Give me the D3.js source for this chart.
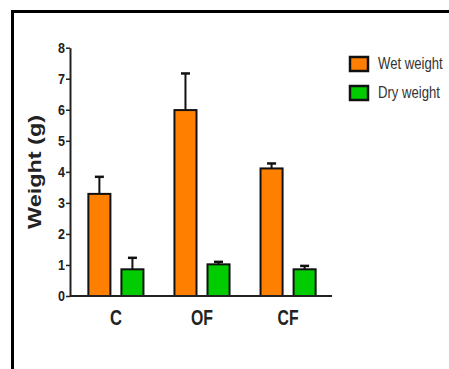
<!DOCTYPE html>
<html>
<head>
<meta charset="utf-8">
<script src="https://cdn.jsdelivr.net/npm/d3@7"></script>
<style>
  body { margin: 0; background: #fff; }
  text { font-family: "Liberation Sans", Arial, sans-serif; }
</style>
</head>
<body>
<div id="chart"></div>
<script>
const groups = ["C", "OF", "CF"];
const seriesNames = ["Wet weight", "Dry weight"];
const wetMeans = [3.29, 5.99, 4.11];
const wetErrors = [0.55, 1.18, 0.16];
const dryMeans = [0.86, 1.02, 0.86];
const dryErrors = [0.37, 0.08, 0.11];
const yTicks = [0, 1, 2, 3, 4, 5, 6, 7, 8];
const colors = ["#ff8000", "#00cc00"];

(function () {
  const svg = d3.select("#chart")
    .append("svg")
    .attr("width", 449)
    .attr("height", 369);

  // outer frame (only top and left edges show in the picture)
  svg.append("path")
    .attr("d", "M12.5,369 L12.5,11.5 L449,11.5")
    .attr("fill", "none")
    .attr("stroke", "#000")
    .attr("stroke-width", 3);

  const left = 70;

  const yScale = d3.scaleLinear().domain([0, 8]).range([296, 47.7]);
  const xGroup = d3.scaleBand().domain(groups).range([72, 332]).paddingInner(0.36).paddingOuter(0.19);
  const xSeries = d3.scaleBand().domain(seriesNames).range([0, xGroup.bandwidth()]).paddingInner(0.333);

  const data = [];
  groups.forEach((g, i) => {
    data.push({ group: g, series: seriesNames[0], mean: wetMeans[i], err: wetErrors[i], color: colors[0] });
    data.push({ group: g, series: seriesNames[1], mean: dryMeans[i], err: dryErrors[i], color: colors[1] });
  });

  const bars = svg.append("g");

  // error bars, upper half only
  bars.selectAll(".err")
    .data(data)
    .enter().append("g")
    .each(function (d) {
      const cx = xGroup(d.group) + xSeries(d.series) + xSeries.bandwidth() / 2;
      const g = d3.select(this);
      g.append("line")
        .attr("x1", cx).attr("x2", cx)
        .attr("y1", yScale(d.mean)).attr("y2", yScale(d.mean + d.err))
        .attr("stroke", "#111").attr("stroke-width", 2);
      g.append("line")
        .attr("x1", cx - 4.5).attr("x2", cx + 4.5)
        .attr("y1", yScale(d.mean + d.err)).attr("y2", yScale(d.mean + d.err))
        .attr("stroke", "#111").attr("stroke-width", 2.5);
    });

  bars.selectAll("rect")
    .data(data)
    .enter().append("rect")
    .attr("x", d => xGroup(d.group) + xSeries(d.series))
    .attr("width", xSeries.bandwidth())
    .attr("y", d => yScale(d.mean))
    .attr("height", d => yScale(0) - yScale(d.mean))
    .attr("fill", d => d.color)
    .attr("stroke", "#111")
    .attr("stroke-width", 2);

  // y axis
  const yAxis = svg.append("g")
    .attr("transform", "translate(" + left + ",0)")
    .call(d3.axisLeft(yScale).tickValues(yTicks).tickSize(4).tickSizeOuter(0).tickPadding(1));
  yAxis.select(".domain").attr("stroke", "#222").attr("stroke-width", 2);
  yAxis.selectAll(".tick line").attr("stroke", "#222").attr("stroke-width", 1.5);
  yAxis.selectAll(".tick text")
    .attr("font-size", 14)
    .attr("font-weight", "bold")
    .attr("fill", "#222")
    .attr("textLength", 7)
    .attr("lengthAdjust", "spacingAndGlyphs")
    .style("font-family", "'Liberation Sans', Arial, sans-serif");

  // x axis
  svg.append("line")
    .attr("x1", left).attr("x2", 332)
    .attr("y1", 296).attr("y2", 296)
    .attr("stroke", "#222").attr("stroke-width", 2);

  const labelWidths = { C: 12, OF: 22, CF: 21 };
  svg.selectAll(".xlabel")
    .data(groups)
    .enter().append("text")
    .attr("x", d => xGroup(d) + xGroup.bandwidth() / 2)
    .attr("y", 325)
    .attr("text-anchor", "middle")
    .attr("font-size", 22)
    .attr("font-weight", "bold")
    .attr("fill", "#222")
    .attr("textLength", d => labelWidths[d])
    .attr("lengthAdjust", "spacingAndGlyphs")
    .text(d => d);

  svg.append("text")
    .attr("transform", "translate(41,172) rotate(-90)")
    .attr("text-anchor", "middle")
    .attr("font-size", 18)
    .attr("font-weight", "bold")
    .attr("fill", "#222")
    .attr("textLength", 114)
    .attr("lengthAdjust", "spacingAndGlyphs")
    .text("Weight (g)");

  // legend, text squeezed to look like a narrow font
  const legend = svg.append("g").attr("transform", "translate(350,57)");
  seriesNames.forEach((name, i) => {
    const row = legend.append("g").attr("transform", "translate(0," + (i * 29) + ")");
    row.append("rect")
      .attr("width", 18).attr("height", 14)
      .attr("fill", colors[i])
      .attr("stroke", "#111").attr("stroke-width", 2.5);
    row.append("text")
      .attr("transform", "translate(28,12) scale(0.82,1)")
      .attr("font-size", 16)
      .attr("fill", "#333")
      .text(name);
  });
})();
</script>
</body>
</html>
